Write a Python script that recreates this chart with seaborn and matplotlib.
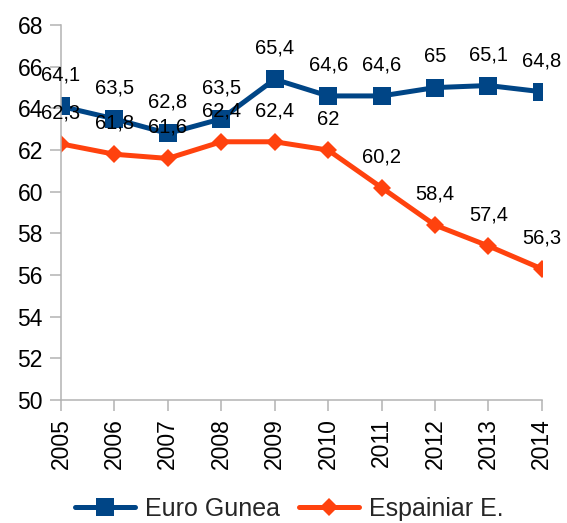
import matplotlib
matplotlib.use("Agg")
import matplotlib.pyplot as plt
import seaborn as sns
import pandas as pd

years = [2005, 2006, 2007, 2008, 2009, 2010, 2011, 2012, 2013, 2014]
euro = [64.1, 63.5, 62.8, 63.5, 65.4, 64.6, 64.6, 65.0, 65.1, 64.8]
spain = [62.3, 61.8, 61.6, 62.4, 62.4, 62.0, 60.2, 58.4, 57.4, 56.3]
series_names = ["Euro Gunea", "Espainiar E."]

sns.set_style("white")
plt.rcParams['font.family'] = ['Liberation Sans', 'DejaVu Sans']

df = pd.DataFrame({
    "year": years * 2,
    "value": euro + spain,
    "series": [series_names[0]] * len(years) + [series_names[1]] * len(years),
})

fig = plt.figure(figsize=(5.67, 5.23), dpi=100)
ax = fig.add_axes([0.1076, 0.235, 0.848, 0.717])

palette = {series_names[0]: "#004586", series_names[1]: "#ff420e"}
markers = {series_names[0]: "s", series_names[1]: "D"}
sns.lineplot(data=df, x="year", y="value", hue="series", style="series",
             palette=palette, markers=markers, dashes=False, linewidth=3.6,
             markersize=13, markeredgewidth=0, ax=ax, legend=True)

msizes = [13, 9]
for line, ms in zip(ax.lines[:2], msizes):
    line.set_markersize(ms)

for s, vals in zip(series_names, [euro, spain]):
    for x, v in zip(years, vals):
        lab = ("%g" % v).replace(".", ",")
        ax.annotate(lab, (x, v), xytext=(0, 31), textcoords="offset pixels",
                    ha="center", va="center", fontsize=14.5, color="black")

ax.set_xlim(years[0], years[-1])
ax.set_ylim(50, 68)
ax.set_yticks(range(50, 69, 2))
ax.set_xticks(years)
ax.set_xticklabels([str(y) for y in years], rotation=90)
ax.tick_params(axis="both", labelsize=16.5, colors="#b3b3b3", labelcolor="black",
               length=8, width=1.1, pad=5, direction="out", left=True, bottom=True)
ax.set_xlabel("")
ax.set_ylabel("")
for sp in ["top", "right"]:
    ax.spines[sp].set_visible(False)
for sp in ["left", "bottom"]:
    ax.spines[sp].set_color("#b3b3b3")
    ax.spines[sp].set_linewidth(1.1)
ax.grid(False)

handles, labels = ax.get_legend_handles_labels()
for h, ms in zip(handles, msizes):
    h.set_markersize(ms)
fig.legend(handles, labels, loc="center", bbox_to_anchor=(289 / 567, 1 - 509 / 523),
           ncol=2, frameon=False, fontsize=18, handlelength=2.4,
           columnspacing=0.75, handletextpad=0.4, borderaxespad=0)
ax.get_legend().remove()

fig.savefig("out.png", dpi=100)
